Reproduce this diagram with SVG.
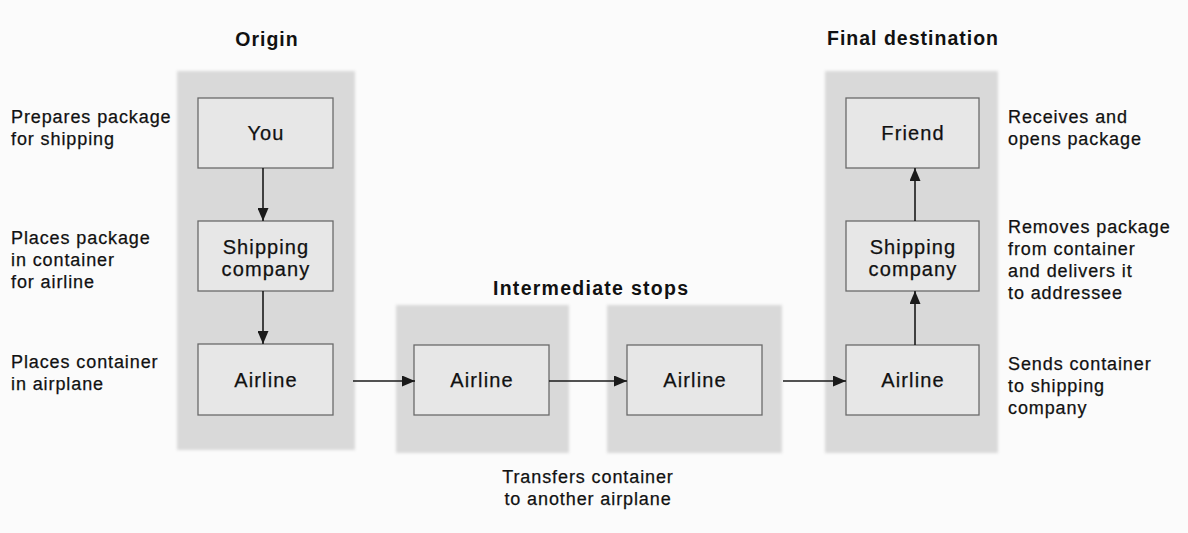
<svg xmlns="http://www.w3.org/2000/svg" width="1188" height="533" viewBox="0 0 1188 533">
<defs>
<marker id="ah" viewBox="0 0 13 11" refX="13" refY="5.5" markerWidth="13" markerHeight="11" markerUnits="userSpaceOnUse" orient="auto">
<path d="M0,0 L13,5.5 L0,11 Z" fill="#1a1a1a"/>
</marker>
<filter id="soft" x="-5%" y="-5%" width="110%" height="110%"><feGaussianBlur stdDeviation="1.5"/></filter>
</defs>
<style>
.panel{fill:#d9d9d9;}
.box{fill:#e7e7e7;stroke:#6a6a6a;stroke-width:1.3;}
.nl{font-family:"Liberation Sans",Arial,sans-serif;font-size:20px;letter-spacing:1.1px;fill:#111;stroke:#111;stroke-width:0.25;text-anchor:middle;}
.side{font-family:"Liberation Sans",Arial,sans-serif;font-size:18px;letter-spacing:0.9px;fill:#111;stroke:#111;stroke-width:0.25;}
.title{font-family:"Liberation Sans",Arial,sans-serif;font-size:19.5px;font-weight:bold;letter-spacing:1px;fill:#111;text-anchor:middle;}
.conn{stroke:#1a1a1a;stroke-width:1.6;fill:none;marker-end:url(#ah);}
</style>
<rect width="1188" height="533" fill="#fbfbfb"/>
<g id="panels" filter="url(#soft)">
<rect class="panel" x="177" y="71" width="178" height="379"/>
<rect class="panel" x="396" y="305" width="173" height="148"/>
<rect class="panel" x="607" y="305" width="175" height="148"/>
<rect class="panel" x="825" y="71" width="173" height="382"/>
</g>
<g id="titles">
<text class="title" x="267" y="46">Origin</text>
<text class="title" x="913" y="45">Final destination</text>
<text class="title" x="591" y="295" textLength="196" lengthAdjust="spacing">Intermediate stops</text>
</g>
<g id="node-you"><rect class="box" x="198" y="98" width="135" height="70"/><text class="nl" x="266" y="140">You</text></g>
<g id="node-ship1"><rect class="box" x="198" y="221" width="135" height="70"/><text class="nl" x="266" y="254">Shipping</text><text class="nl" x="266" y="276">company</text></g>
<g id="node-air1"><rect class="box" x="198" y="344" width="135" height="71"/><text class="nl" x="266" y="387">Airline</text></g>
<g id="node-air2"><rect class="box" x="414" y="345" width="135" height="70"/><text class="nl" x="482" y="387">Airline</text></g>
<g id="node-air3"><rect class="box" x="627" y="345" width="135" height="70"/><text class="nl" x="695" y="387">Airline</text></g>
<g id="node-air4"><rect class="box" x="846" y="345" width="133" height="70"/><text class="nl" x="913" y="387">Airline</text></g>
<g id="node-ship2"><rect class="box" x="846" y="221" width="133" height="70"/><text class="nl" x="913" y="254">Shipping</text><text class="nl" x="913" y="276">company</text></g>
<g id="node-friend"><rect class="box" x="846" y="98" width="133" height="70"/><text class="nl" x="913" y="140">Friend</text></g>
<g id="connectors">
<line class="conn" x1="263" y1="168" x2="263" y2="221"/>
<line class="conn" x1="263" y1="291" x2="263" y2="344"/>
<line class="conn" x1="353" y1="381" x2="415" y2="381"/>
<line class="conn" x1="549" y1="381" x2="627" y2="381"/>
<line class="conn" x1="783" y1="381" x2="846" y2="381"/>
<line class="conn" x1="915" y1="345" x2="915" y2="291"/>
<line class="conn" x1="915" y1="221" x2="915" y2="168"/>
</g>
<g id="side-labels">
<text class="side" x="11" y="123">Prepares package</text>
<text class="side" x="11" y="145">for shipping</text>
<text class="side" x="11" y="244">Places package</text>
<text class="side" x="11" y="266">in container</text>
<text class="side" x="11" y="288">for airline</text>
<text class="side" x="11" y="368">Places container</text>
<text class="side" x="11" y="390">in airplane</text>
<text class="side" x="1008" y="123">Receives and</text>
<text class="side" x="1008" y="145">opens package</text>
<text class="side" x="1008" y="233">Removes package</text>
<text class="side" x="1008" y="255">from container</text>
<text class="side" x="1008" y="277">and delivers it</text>
<text class="side" x="1008" y="299">to addressee</text>
<text class="side" x="1008" y="370">Sends container</text>
<text class="side" x="1008" y="392">to shipping</text>
<text class="side" x="1008" y="414">company</text>
<text class="side" x="588" y="483" text-anchor="middle">Transfers container</text>
<text class="side" x="588" y="505" text-anchor="middle">to another airplane</text>
</g>
</svg>
